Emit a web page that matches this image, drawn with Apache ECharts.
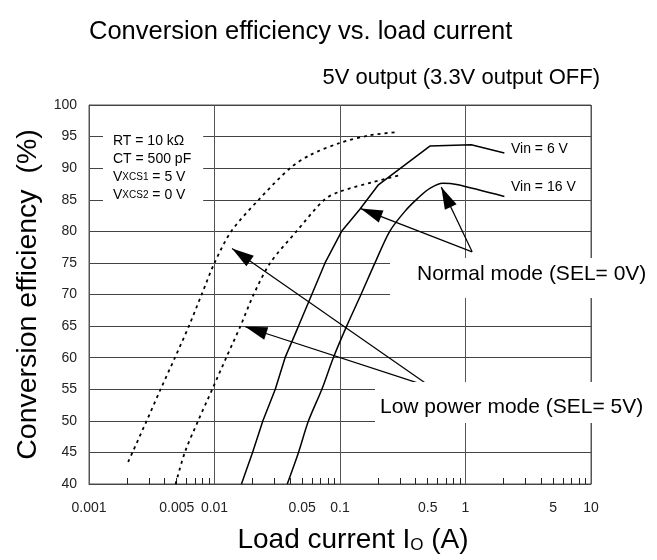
<!DOCTYPE html>
<html><head><meta charset="utf-8">
<script src="https://cdn.jsdelivr.net/npm/echarts@6/dist/echarts.min.js"></script>
<style>html,body{margin:0;padding:0;background:#fff}#c{width:657px;height:560px}</style>
</head><body><div id="c"></div>
<script>
// ---- data ----
const xLabelValues = [0.001, 0.005, 0.01, 0.05, 0.1, 0.5, 1, 5, 10];
const xTickLabels = ['0.001', '0.005', '0.01', '0.05', '0.1', '0.5', '1', '5', '10'];
const xMinorTicks = [0.002, 0.003, 0.004, 0.005, 0.006, 0.007, 0.008, 0.009,
  0.02, 0.03, 0.04, 0.05, 0.06, 0.07, 0.08, 0.09,
  0.2, 0.3, 0.4, 0.5, 0.6, 0.7, 0.8, 0.9,
  2, 3, 4, 5, 6, 7, 8, 9];
const xGridValues = [0.001, 0.01, 0.1, 1, 10];
const yMin = 40, yMax = 100, yStep = 5;

// Low power mode (SEL = 5V), dotted
const lowPowerVin6 = [[0.00205, 43.5], [0.00222, 45], [0.00288, 50], [0.00372, 55], [0.00484, 60],
  [0.00625, 65], [0.0079, 70], [0.01, 75], [0.0136, 80], [0.0225, 85], [0.04, 90],
  [0.058, 92.1], [0.1, 94], [0.173, 95.2], [0.28, 95.7]];
const lowPowerVin16 = [[0.0049, 40], [0.0058, 45], [0.0074, 50], [0.0096, 55], [0.0124, 60],
  [0.0161, 65], [0.0205, 70], [0.0278, 75], [0.045, 80], [0.075, 85], [0.1, 86.3],
  [0.184, 87.8], [0.3, 88.9]];
// Normal mode (SEL = 0V), solid
const normalVin6 = [[0.0164, 40], [0.0201, 45], [0.0243, 50], [0.0305, 55], [0.0365, 60],
  [0.0467, 65], [0.0596, 70], [0.076, 75], [0.103, 80], [0.144, 83.5], [0.201, 87.3],
  [0.52, 93.5], [1.11, 93.7], [2.04, 92.4]];
const normalVin16 = [[0.038, 40], [0.0467, 45], [0.0561, 50], [0.0717, 55], [0.0885, 60],
  [0.113, 65], [0.147, 70], [0.19, 75], [0.249, 80], [0.33, 83.2], [0.42, 85.3],
  [0.52, 86.8], [0.66, 87.6], [0.85, 87.4], [2.04, 85.5]];

// annotation arrows (data coordinates)
const normalArrowTail = [1.13, 76.75];
const normalArrowHeads = [[0.146, 83.6], [0.641, 87.0]];
const lowArrowTail = [0.535, 55.3];
const lowArrowHeads = [[0.0138, 77.3], [0.0176, 64.9]];

// ---- chart ----
const FONT = 'Liberation Sans, Arial, Helvetica, sans-serif';
const chart = echarts.init(document.getElementById('c'), null, {renderer: 'canvas'});

function arrows(tail, heads) {
  return {
    silent: true,
    animation: false,
    symbol: ['none', 'triangle'],
    symbolSize: 22,
    label: {show: false},
    itemStyle: {color: '#000'},
    lineStyle: {color: '#000', width: 1.2, type: 'solid'},
    emphasis: {disabled: true},
    data: heads.map(h => [
      {coord: tail, symbol: 'none'},
      {coord: h, symbol: 'triangle', symbolSize: [13, 22], symbolOffset: [0, 11], itemStyle: {color: '#000'}}
    ])
  };
}

const txt = (size) => ({fontFamily: FONT, fontWeight: 'normal', color: '#000', fontSize: size});

const option = {
  animation: false,
  backgroundColor: '#fff',
  title: [
    {text: 'Conversion efficiency vs. load current', left: 84, top: 14, textStyle: txt(25.5)},
    {text: '5V output (3.3V output OFF)', right: 52, top: 62, textStyle: txt(22)},
    {text: '{n|RT = 10 kΩ}\n{n|CT = 500 pF}\n{n|V}{s|XCS1}{n| = 5 V}\n{n|V}{s|XCS2}{n| = 0 V}',
      left: 103, top: 128, padding: [4, 12, 5, 10], backgroundColor: '#fff',
      textStyle: {fontFamily: FONT, fontWeight: 'normal', rich: {
        n: {fontFamily: FONT, fontWeight: 'normal', fontSize: 14, color: '#000', lineHeight: 18},
        s: {fontFamily: FONT, fontWeight: 'normal', fontSize: 10, color: '#000', lineHeight: 18}
      }}},
    {text: 'Normal mode (SEL= 0V)', left: 390, top: 258, padding: [6, 12, 13, 27], backgroundColor: '#fff',
      textStyle: txt(21)},
    {text: 'Low power mode (SEL= 5V)', left: 375, top: 382, padding: [15, 6, 5, 5], backgroundColor: '#fff',
      textStyle: txt(21)},
    {text: 'Vin = 6 V', left: 511, top: 142, padding: 0, textStyle: txt(14)},
    {text: 'Vin = 16 V', left: 511, top: 180, padding: 0, textStyle: txt(14)}
  ],
  grid: {left: 89, right: 66, top: 105, bottom: 76, show: true, borderColor: '#555', borderWidth: 1, containLabel: false},
  xAxis: [{
    type: 'log', logBase: 10, min: 0.001, max: 10, z: 3,
    name: 'Load current I{s|O} (A)', nameLocation: 'middle', nameGap: 42,
    nameTextStyle: {fontFamily: FONT, fontSize: 28, color: '#000', padding: [0, 0, 0, 26],
      rich: {s: {fontFamily: FONT, fontSize: 17, color: '#000', verticalAlign: 'bottom'}}},
    axisLine: {show: true, lineStyle: {color: '#444', width: 1}},
    axisTick: {show: true, inside: true, length: 6, customValues: xMinorTicks, lineStyle: {color: '#222', width: 1}},
    minorTick: {show: false},
    axisLabel: {show: true, customValues: xLabelValues, margin: 17, fontFamily: FONT, fontSize: 14, color: '#222',
      formatter: v => {
        const i = xLabelValues.findIndex(t => Math.abs(Math.log10(t) - Math.log10(v)) < 1e-6);
        return i >= 0 ? xTickLabels[i] : '';
      }},
    splitLine: {show: false}
  }, {
    type: 'log', logBase: 10, min: 0.001, max: 10, position: 'bottom',
    axisLine: {show: false},
    axisTick: {show: false, customValues: xGridValues},
    axisLabel: {show: false},
    minorTick: {show: false},
    splitLine: {show: true, lineStyle: {color: '#555', width: 1}}
  }],
  yAxis: {
    type: 'value', min: yMin, max: yMax, interval: yStep,
    name: 'Conversion efficiency  (%)', nameLocation: 'middle', nameRotate: 90, nameGap: 43,
    nameTextStyle: {fontFamily: FONT, fontSize: 28.5, color: '#000'},
    axisLine: {show: true, lineStyle: {color: '#555'}},
    axisTick: {show: false},
    axisLabel: {margin: 12, fontFamily: FONT, fontSize: 14, color: '#222'},
    splitLine: {show: true, lineStyle: {color: '#444', width: 1}}
  },
  series: [
    {name: 'Low power Vin=6V', type: 'line', data: lowPowerVin6, showSymbol: false, smooth: 0.3,
      lineStyle: {color: '#000', width: 1.8, type: [3, 4]}, silent: true},
    {name: 'Low power Vin=16V', type: 'line', data: lowPowerVin16, showSymbol: false, smooth: 0.3,
      lineStyle: {color: '#000', width: 1.8, type: [3, 4]}, silent: true,
      markLine: arrows(lowArrowTail, lowArrowHeads)},
    {name: 'Normal Vin=6V', type: 'line', data: normalVin6, showSymbol: false, smooth: false,
      lineStyle: {color: '#000', width: 1.5}, silent: true},
    {name: 'Normal Vin=16V', type: 'line', data: normalVin16, showSymbol: false, smooth: 0.3,
      lineStyle: {color: '#000', width: 1.5}, silent: true,
      markLine: arrows(normalArrowTail, normalArrowHeads)}
  ]
};
chart.setOption(option);
</script>
</body></html>
